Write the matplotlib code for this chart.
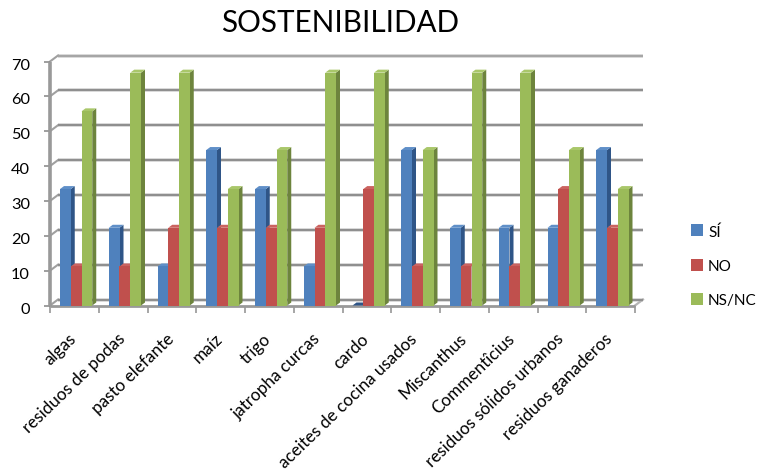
import matplotlib
matplotlib.use("Agg")
import matplotlib.pyplot as plt
from matplotlib.patches import Polygon, Rectangle

categories = ["algas", "residuos de podas", "pasto elefante", "maíz", "trigo",
              "jatropha curcas", "cardo", "aceites de cocina usados", "Miscanthus",
              "Commentîcius", "residuos sólidos urbanos", "residuos ganaderos"]
si = [33.4, 22.3, 11.2, 44.6, 33.4, 11.2, 0, 44.6, 22.3, 22.3, 22.3, 44.6]
no = [11.2, 11.2, 22.3, 22.3, 22.3, 22.3, 33.4, 11.2, 11.2, 11.2, 33.4, 22.3]
nsnc = [55.7, 66.8, 66.8, 33.4, 44.6, 66.8, 66.8, 44.6, 66.8, 66.8, 44.6, 33.4]
series_names = ["SÍ", "NO", "NS/NC"]
yticks = [0, 10, 20, 30, 40, 50, 60, 70]

plt.rcParams['font.family'] = ['Lato', 'DejaVu Sans']
W, H = 762, 477
fig = plt.figure(figsize=(W/100, H/100), dpi=100)
L, R, T, B = 50, 635, 62.5, 306.5
ax = fig.add_axes([L/W, 1-B/H, (R-L)/W, (B-T)/H])
ax.set_xlim(0, 12)
ax.set_ylim(0, 70)
ax.axis("off")

px = (R-L)/12      # pixels per category
py = (B-T)/70      # pixels per unit
DX, DY = 8/px, 6/py         # wall depth
dx, dy = 4/px, 3/py         # bar depth
GRID = "#8e8e8e"
SOFT = "#d2d2d2"

# walls and gridlines
for v in yticks:
    ax.plot([DX, 12+DX], [v+DY, v+DY], color=SOFT, lw=2.6, clip_on=False, zorder=1, solid_capstyle="butt")
    ax.plot([DX, 12+DX], [v+DY, v+DY], color="#a5a5a5" if v == 70 else GRID, lw=1.4, clip_on=False,
            zorder=1.1, solid_capstyle="butt")
    ax.plot([0, DX], [v, v+DY], color="#a0a0a0", lw=1.5, clip_on=False, zorder=1)
    ax.plot([-6/px, 0], [v, v], color=GRID, lw=1.2, clip_on=False, zorder=1, solid_capstyle="butt")
ax.plot([12, 12+DX], [0, DY], color="#b5b5b5", lw=1.6, clip_on=False, zorder=1)
ax.plot([0, 12], [0, 0], color="#999999", lw=2.0, clip_on=False, zorder=2, solid_capstyle="butt")
ax.plot([0, 0], [0, 70], color="#999999", lw=2.6, clip_on=False, zorder=2, solid_capstyle="butt")
for i in range(13):
    ax.plot([i, i], [0, -7/py], color=GRID, lw=1.1, clip_on=False, zorder=1, solid_capstyle="butt")

# bars
front = ["#4f81bd", "#c0504d", "#9bbb59"]
side = ["#2f5587", "#8c3836", "#6d843d"]
top = ["#5f8fc8", "#cb6360", "#a9c76a"]
bw = 10.75/px
start = 10/px
z = 3
for s, vals in enumerate([si, no, nsnc]):
    for i, v in enumerate(vals):
        x0 = i + start + s*bw
        x1 = x0 + bw
        ax.add_patch(Polygon([(x1, 0), (x1+dx, dy), (x1+dx, v+dy), (x1, v)],
                             fc=side[s], ec="none", zorder=z, clip_on=False))
        ax.add_patch(Polygon([(x0, v), (x0+dx, v+dy), (x1+dx, v+dy), (x1, v)],
                             fc=top[s] if v > 0 else side[s], ec="none", zorder=z, clip_on=False))
        ax.add_patch(Rectangle((x0, 0), bw, v, fc=front[s], ec="none", zorder=z+0.1, clip_on=False))
    z += 1

# y tick labels
for v in yticks:
    ax.annotate(str(v), xy=(0, v), xytext=(-20*0.72, -3.0*0.72), textcoords="offset points",
                ha="right", va="center", fontsize=11.8, color="#000000", annotation_clip=False)

# x labels
for i, c in enumerate(categories):
    ax.annotate(c, xy=(i+0.5, 0), xytext=(-4.5, -17.5), textcoords="offset points",
                rotation=44, rotation_mode="anchor", ha="right", va="top",
                fontsize=12.3, color="#000000", annotation_clip=False)

# title
fig.text(340.5/W, 1-23/H, "SOSTENIBILIDAD", ha="center", va="center", fontsize=21.3, color="#000000")

# legend
for s, (name, yc) in enumerate(zip(series_names, [231, 266, 300])):
    fig.add_artist(Rectangle((691/W, 1-(yc+6)/H), 12/W, 12/H, fc=front[s], ec="none",
                             transform=fig.transFigure))
    fig.text(708/W, 1-(yc+1.5)/H, name, ha="left", va="center", fontsize=11.0, color="#000000")

fig.savefig("out.png", dpi=100)
